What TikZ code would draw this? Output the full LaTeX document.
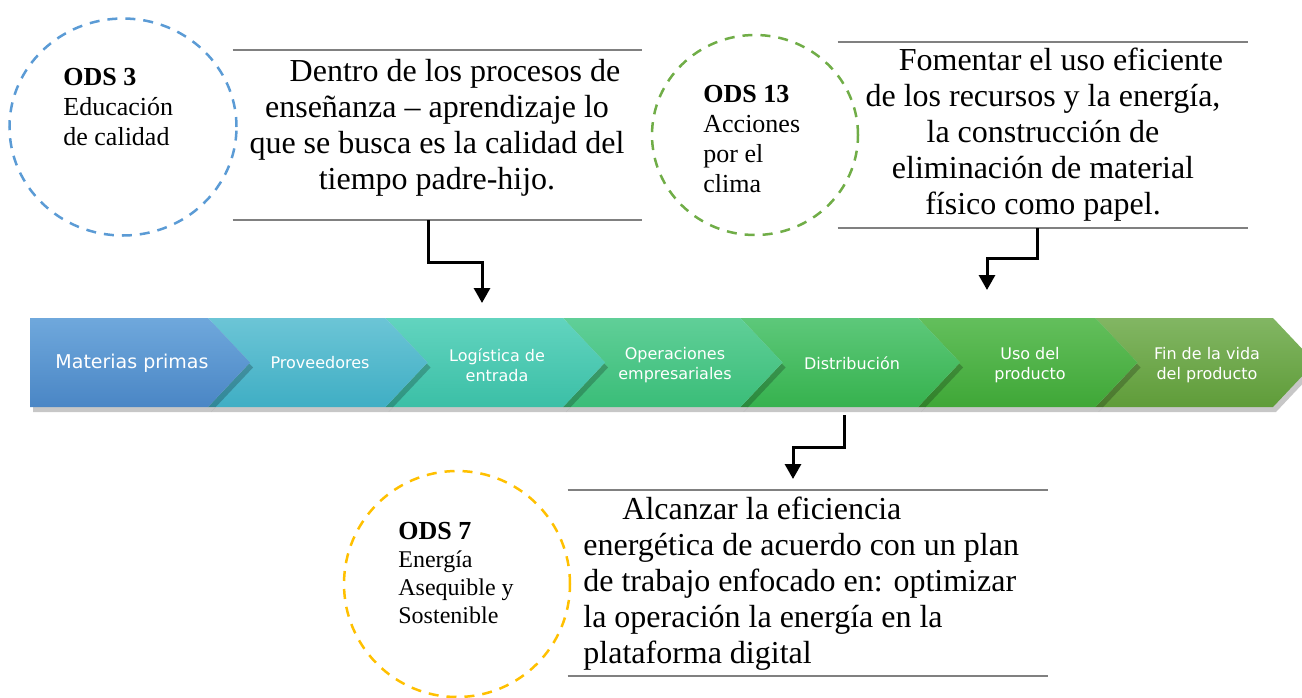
\documentclass[tikz,border=0pt]{standalone}
\usepackage{fontspec}
\setmainfont{Liberation Serif}
\newfontfamily\chevfont{DejaVu Sans}
\usepackage{tikz}
\usetikzlibrary{arrows.meta, shapes.geometric, shadows}

\definecolor{mpT}{HTML}{6FA8DC}
\definecolor{mpB}{HTML}{4A86C5}
\definecolor{prT}{HTML}{6CC5D6}
\definecolor{prB}{HTML}{3FAEC4}
\definecolor{leT}{HTML}{62D4BF}
\definecolor{leB}{HTML}{3BBFA6}
\definecolor{opT}{HTML}{60CF98}
\definecolor{opB}{HTML}{3ABD78}
\definecolor{diT}{HTML}{5DC87A}
\definecolor{diB}{HTML}{36B24E}
\definecolor{usT}{HTML}{63BF5C}
\definecolor{usB}{HTML}{3FA737}
\definecolor{fiT}{HTML}{82B663}
\definecolor{fiB}{HTML}{5F9C39}
\definecolor{odsblue}{HTML}{5B9BD5}
\definecolor{odsgreen}{HTML}{70AD47}
\definecolor{odsgold}{HTML}{FFC000}
\definecolor{rulecol}{HTML}{808080}

\tikzstyle{chev}=[drop shadow={shadow xshift=1.5pt, shadow yshift=-2.5pt, opacity=0.22, fill=black}]
\tikzstyle{chevtext}=[text=white, align=center, inner sep=0pt, font=\chevfont\fontsize{8}{10}\selectfont]
\tikzstyle{odsring}=[ellipse, draw, line width=1.25pt, dash pattern=on 5pt off 4pt, inner sep=0pt]
\tikzstyle{odstext}=[anchor=north west, align=left, inner sep=0pt, font=\fontsize{13}{15}\selectfont]
\tikzstyle{rulebox}=[inner sep=0pt]
\tikzstyle{rulegray}=[draw=rulecol, line width=1pt]
\tikzstyle{bodytext}=[anchor=north, align=center, inner sep=0pt, font=\fontsize{16}{18}\selectfont]
\tikzstyle{link}=[draw=black, line width=1.5pt, -{Triangle[length=7.5pt, width=8pt]}]

\begin{document}
\begin{tikzpicture}[x=0.5pt, y=-0.5pt]
\useasboundingbox (0,0) rectangle (1302,697);
\clip (0,0) rectangle (1302,697);

\path[chev, top color=fiT, bottom color=fiB] (1095.5,318) -- (1273,318) -- (1315,362.5) -- (1273,407) -- (1095.5,407) -- (1137.5,362.5) -- cycle;
\path[chev, top color=usT, bottom color=usB] (918,318) -- (1095.5,318) -- (1137.5,362.5) -- (1095.5,407) -- (918,407) -- (960,362.5) -- cycle;
\path[chev, top color=diT, bottom color=diB] (740.5,318) -- (918,318) -- (960,362.5) -- (918,407) -- (740.5,407) -- (782.5,362.5) -- cycle;
\path[chev, top color=opT, bottom color=opB] (563,318) -- (740.5,318) -- (782.5,362.5) -- (740.5,407) -- (563,407) -- (605,362.5) -- cycle;
\path[chev, top color=leT, bottom color=leB] (385.5,318) -- (563,318) -- (605,362.5) -- (563,407) -- (385.5,407) -- (427.5,362.5) -- cycle;
\path[chev, top color=prT, bottom color=prB] (208,318) -- (385.5,318) -- (427.5,362.5) -- (385.5,407) -- (208,407) -- (250,362.5) -- cycle;
\path[chev, top color=mpT, bottom color=mpB] (30,318) -- (208,318) -- (250,362.5) -- (208,407) -- (30,407) -- cycle;

\node[chevtext, font=\chevfont\fontsize{9.5}{11}\selectfont] (mp) at (132,363) {Materias primas};
\node[chevtext] (pr) at (320,363) {Proveedores};
\node[chevtext] (le) at (497,365) {Logística de\\entrada};
\node[chevtext] (op) at (675,365) {Operaciones\\empresariales};
\node[chevtext] (di) at (852,363) {Distribución};
\node[chevtext] (us) at (1030,365) {Uso del\\producto};
\node[chevtext] (fi) at (1207,365) {Fin de la vida\\del producto};

\node[odsring, draw=odsblue, minimum width=113.5pt, minimum height=108.5pt] (ring3) at (123,127) {};
\node[odsring, draw=odsgreen, minimum width=103pt, minimum height=100pt] (ring13) at (755,135) {};
\node[odsring, draw=odsgold, minimum width=113pt, minimum height=113pt] (ring7) at (457,584) {};

\node[odstext] (ods3) at (63,68) {\textbf{ODS 3}\\Educación\\de calidad};
\node[odstext] (ods13) at (703,85) {\textbf{ODS 13}\\Acciones\\por el\\clima};
\node[odstext, font=\fontsize{12}{14}\selectfont] (ods7) at (398,522) {{\fontsize{13}{14}\selectfont\textbf{ODS 7}}\\Energía\\Asequible y\\Sostenible};

\node[rulebox, minimum width=204.5pt, minimum height=85pt] (box1) at (437.5,135) {};
\node[rulebox, minimum width=205pt, minimum height=93pt] (box2) at (1043,135) {};
\node[rulebox, minimum width=240pt, minimum height=93pt] (box3) at (808,583) {};
\draw[rulegray] (box1.north west) -- (box1.north east);
\draw[rulegray] (box1.south west) -- (box1.south east);
\draw[rulegray] (box2.north west) -- (box2.north east);
\draw[rulegray] (box2.south west) -- (box2.south east);
\draw[rulegray] (box3.north west) -- (box3.north east);
\draw[rulegray] (box3.south west) -- (box3.south east);

\node[bodytext] (t1) at (437,59) {\hspace*{18pt}Dentro de los procesos de\\enseñanza – aprendizaje lo\\que se busca es la calidad del\\tiempo padre-hijo.};
\node[bodytext] (t2) at (1043,48) {\hspace*{18pt}Fomentar el uso eficiente\\de los recursos y la energía,\\la construcción de\\eliminación de material\\físico como papel.};
\node[bodytext, anchor=north west, align=left] (t3) at (583,497) {\hspace*{19.5pt}Alcanzar la eficiencia\\energética de acuerdo con un plan\\de trabajo enfocado en: optimizar\\la operación la energía en la\\plataforma digital};

\coordinate (a1) at (428,220);
\coordinate (le top) at (482,303);
\coordinate (a2) at (1037,228);
\coordinate (us top) at (987,290);
\coordinate (a3) at (844,415);
\coordinate (t3 top) at (793,479);

\draw[link] (a1) -- ++(0,42) -| (le top);
\draw[link] (a2) -- ++(0,30) -| (us top);
\draw[link] (a3) -- ++(0,32) -| (t3 top);
\end{tikzpicture}
\end{document}
